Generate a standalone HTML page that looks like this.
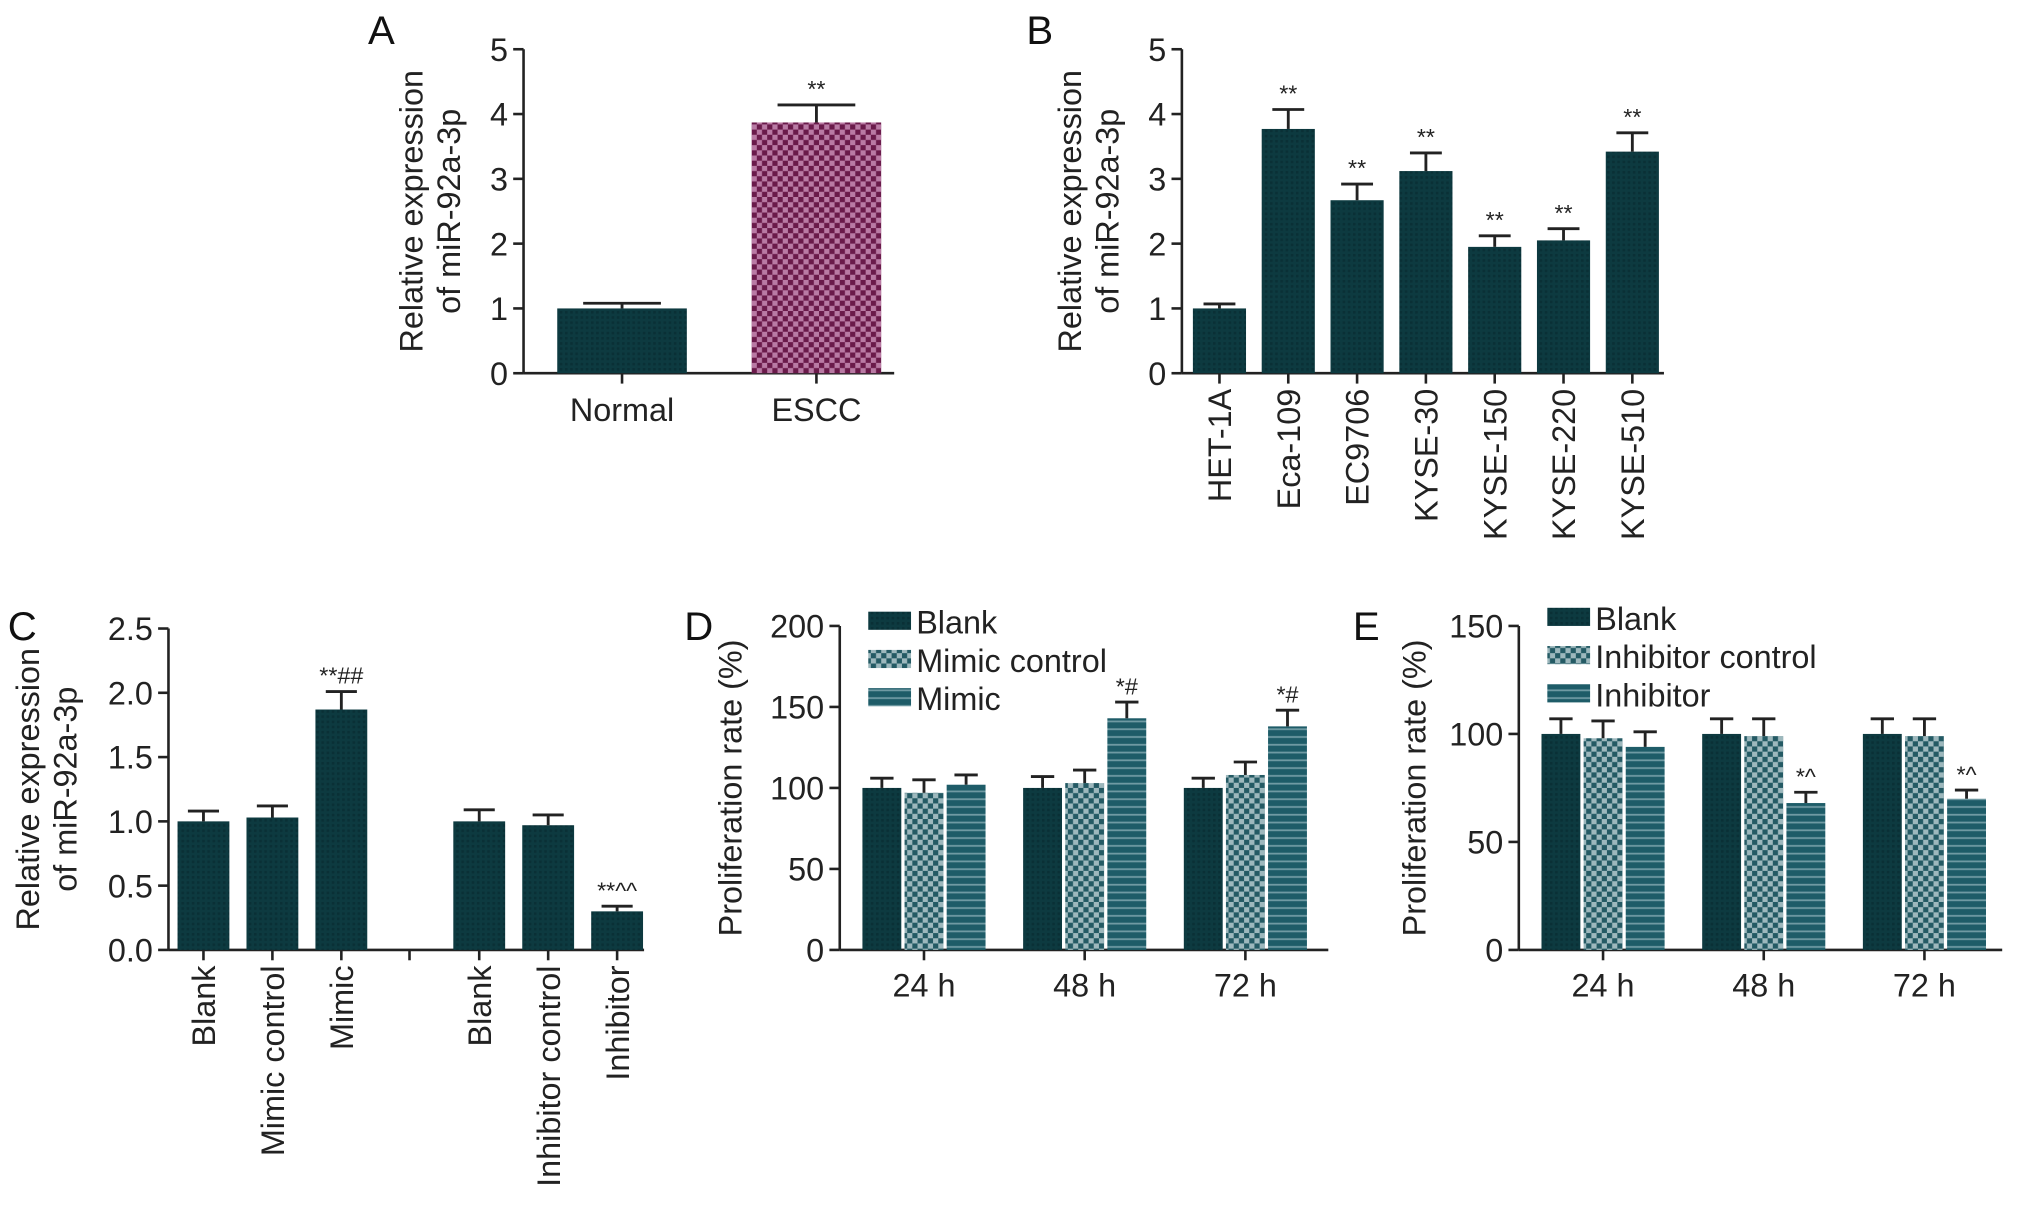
<!DOCTYPE html>
<html><head><meta charset="utf-8"><style>
html,body{margin:0;padding:0;background:#fff;}
svg{display:block;font-family:"Liberation Sans",sans-serif;}
</style></head><body>
<svg id="fig" width="2032" height="1206" viewBox="0 0 1568 930.6" preserveAspectRatio="none" xmlns="http://www.w3.org/2000/svg">
<defs>
<pattern id="pDark" width="4" height="4" patternUnits="userSpaceOnUse"><rect width="4" height="4" fill="#0d3a40"/><rect width="2" height="2" fill="#0a3036"/></pattern>
<pattern id="pPink" width="8" height="8" patternUnits="userSpaceOnUse"><rect width="8" height="8" fill="#b97aa4"/><rect width="4" height="4" fill="#6a1a4a"/><rect x="4" y="4" width="4" height="4" fill="#6a1a4a"/></pattern>
<pattern id="pCheck" width="8" height="8" patternUnits="userSpaceOnUse"><rect width="8" height="8" fill="#9db8bd"/><rect width="4" height="4" fill="#245a64"/><rect x="4" y="4" width="4" height="4" fill="#245a64"/></pattern>
<pattern id="pStripe" width="6" height="6" patternUnits="userSpaceOnUse"><rect width="6" height="6" fill="#1e5c68"/><rect y="4" width="6" height="1.4" fill="#6f9aa3"/></pattern>
</defs>
<g id="root"></g>
</svg>
<script>
// Panel A
const aCats=["Normal","ESCC"];
const aVals=[1.0,3.87];
const aErr=[0.08,0.27];
const aMarks=["","**"];
const aTicks=["0","1","2","3","4","5"];
// Panel B
const bCats=["HET-1A","Eca-109","EC9706","KYSE-30","KYSE-150","KYSE-220","KYSE-510"];
const bVals=[1.0,3.77,2.67,3.12,1.95,2.05,3.42];
const bErr=[0.07,0.3,0.25,0.28,0.17,0.18,0.29];
const bMarks=["","**","**","**","**","**","**"];
const bTicks=["0","1","2","3","4","5"];
// Panel C
const cCats=["Blank","Mimic control","Mimic","Blank","Inhibitor control","Inhibitor"];
const cVals=[1.0,1.03,1.87,1.0,0.97,0.3];
const cErr=[0.08,0.09,0.14,0.09,0.08,0.04];
const cMarks=["","","**##","","","**^^"];
const cTicks=["0.0","0.5","1.0","1.5","2.0","2.5"];
// Panel D
const dGroups=["24 h","48 h","72 h"];
const dSeries=["Blank","Mimic control","Mimic"];
const dBlank=[100,100,100];
const dCtrl=[97,103,108];
const dMimic=[102,143,138];
const dBlankErr=[6,7,6];
const dCtrlErr=[8,8,8];
const dMimicErr=[6,10,10];
const dMarks=["","*#","*#"];
const dTicks=["0","50","100","150","200"];
// Panel E
const eGroups=["24 h","48 h","72 h"];
const eSeries=["Blank","Inhibitor control","Inhibitor"];
const eBlank=[100,100,100];
const eCtrl=[98,99,99];
const eInh=[94,68,70];
const eBlankErr=[7,7,7];
const eCtrlErr=[8,8,8];
const eInhErr=[7,5,4];
const eMarks=["","*^","*^"];
const eTicks=["0","50","100","150"];

const NS="http://www.w3.org/2000/svg";
const root=document.getElementById('root');
function el(tag,attrs,parent,text){const e=document.createElementNS(NS,tag);for(const k in attrs)e.setAttribute(k,attrs[k]);if(text!==undefined)e.textContent=text;(parent||root).appendChild(e);return e;}

function axes(g,ax,y0,ytop,xend,ticks,max,title,titleX){
  const l=el('line',{x1:ax,y1:y0,x2:ax,y2:ytop,stroke:'#222','stroke-width':2},g);
  
  
  const xl=el('line',{x1:ax,y1:y0,x2:xend,y2:y0,stroke:'#222','stroke-width':2},g);
  
  
  ticks.forEach((t,i)=>{
    const v=parseFloat(t);const y=y0-v/max*(y0-ytop);
    el('line',{x1:ax-8,y1:y,x2:ax,y2:y,stroke:'#222','stroke-width':2},g);
    const tx=el('text',{x:ax-12,y:y+9,'text-anchor':'end','font-size':25,fill:'#222'},g,t);
    
    
  });
  const ty=(y0+ytop)/2;
  title.forEach((line,i)=>{
    const x=titleX[i];
    const t=el('text',{x:x,y:ty,'text-anchor':'middle','font-size':25,fill:'#222',transform:`rotate(-90 ${x} ${ty})`},g,line);
    
    
  });
}
function bar(g,cx,w,v,err,max,y0,ytop,fill,mark,name){
  const sc=(y0-ytop)/max;const yt=y0-v*sc;const ye=y0-(v+err)*sc;
  const r=el('rect',{x:cx-w/2,y:yt,width:w,height:y0-yt,fill:fill},g);
  
  
  el('line',{x1:cx,y1:yt,x2:cx,y2:ye,stroke:'#222','stroke-width':2.2},g);
  el('line',{x1:cx-w*0.3,y1:ye,x2:cx+w*0.3,y2:ye,stroke:'#222','stroke-width':2.2},g);
  if(mark){const m=el('text',{x:cx,y:ye-6,'text-anchor':'middle','font-size':18,fill:'#222'},g,mark);
    
    }
}
function letter(t,x,y){const e=el('text',{x:x,y:y,'font-size':31,fill:'#111'},root,t);
  
  }

// ---- Panel A
(function(){
  const g=el('g',{});
  letter('A',284,34);
  const ax=404,y0=288,yt=38,max=5;
  axes(g,ax,y0,yt,690,aTicks,max,["Relative expression","of miR-92a-3p"],[326,355]);
  const cx=[480,630];
  aCats.forEach((c,i)=>{
    bar(g,cx[i],100,aVals[i],aErr[i],max,y0,yt,i?'url(#pPink)':'url(#pDark)',aMarks[i],'bar-'+c.toLowerCase());
    el('line',{x1:cx[i],y1:y0,x2:cx[i],y2:y0+8,stroke:'#222','stroke-width':2},g);
    const t=el('text',{x:cx[i],y:y0+37,'text-anchor':'middle','font-size':25,fill:'#222'},g,c);
    
    
  });
})();
// ---- Panel B
(function(){
  const g=el('g',{});
  letter('B',792,34);
  const ax=912,y0=288,yt=38,max=5;
  axes(g,ax,y0,yt,1284,bTicks,max,["Relative expression","of miR-92a-3p"],[834,863]);
  bCats.forEach((c,i)=>{
    const cx=941+i*53.1;
    bar(g,cx,41,bVals[i],bErr[i],max,y0,yt,'url(#pDark)',bMarks[i],'bar-'+c.toLowerCase());
    el('line',{x1:cx,y1:y0,x2:cx,y2:y0+8,stroke:'#222','stroke-width':2},g);
    const ly=y0+12;
    const t=el('text',{x:cx+9,y:ly,'text-anchor':'end','font-size':25,fill:'#222',transform:`rotate(-90 ${cx+9} ${ly})`},g,c);
    
    
  });
})();
// ---- Panel C
(function(){
  const g=el('g',{});
  letter('C',6,494);
  const ax=130,y0=733,yt=485,max=2.5;
  axes(g,ax,y0,yt,497,cTicks,max,["Relative expression","of miR-92a-3p"],[30,59]);
  const pos=[0,1,2,4,5,6];
  el('line',{x1:316,y1:y0,x2:316,y2:y0+8,stroke:'#222','stroke-width':2},g);
  cCats.forEach((c,i)=>{
    const cx=157+pos[i]*53.2;
    bar(g,cx,40,cVals[i],cErr[i],max,y0,yt,'url(#pDark)',cMarks[i],'bar-'+c.toLowerCase().replace(/ /g,'-'));
    el('line',{x1:cx,y1:y0,x2:cx,y2:y0+8,stroke:'#222','stroke-width':2},g);
    const ly=y0+12;
    const t=el('text',{x:cx+9,y:ly,'text-anchor':'end','font-size':25,fill:'#222',transform:`rotate(-90 ${cx+9} ${ly})`},g,c);
    
    
  });
})();
// ---- grouped panels
function grouped(name,lt,lx,ax,xend,ticks,max,groups,series,vals,errs,marks,fills,legX,legY,titleX){
  const g=el('g',{});
  letter(lt,lx,494);
  const y0=733,yt=483;
  axes(g,ax,y0,yt,xend,ticks,max,["Proliferation rate (%)"],[titleX]);
  groups.forEach((gr,j)=>{
    const gc=ax+65+j*124;
    series.forEach((s,k)=>{
      bar(g,gc+(k-1)*32.5,30,vals[k][j],errs[k][j],max,y0,yt,fills[k],k===2?marks[j]:'','bar-'+gr.replace(' ','')+'-'+s.toLowerCase().replace(/ /g,'-'));
    });
    el('line',{x1:gc,y1:y0,x2:gc,y2:y0+8,stroke:'#222','stroke-width':2},g);
    const t=el('text',{x:gc,y:y0+36,'text-anchor':'middle','font-size':25,fill:'#222'},g,gr);
    
    
  });
  series.forEach((s,k)=>{
    const y=legY+k*29.5;
    const sw=el('rect',{x:legX,y:y-8,width:33,height:14,fill:fills[k]},g);
    
    
    const t=el('text',{x:legX+37,y:y+9,'font-size':25,fill:'#222'},g,s);
    
    
  });
}
grouped('panel-d','D',528,648,1025,dTicks,200,dGroups,dSeries,[dBlank,dCtrl,dMimic],[dBlankErr,dCtrlErr,dMimicErr],dMarks,['url(#pDark)','url(#pCheck)','url(#pStripe)'],670,480,572);
grouped('panel-e','E',1044,1172,1545,eTicks,150,eGroups,eSeries,[eBlank,eCtrl,eInh],[eBlankErr,eCtrlErr,eInhErr],eMarks,['url(#pDark)','url(#pCheck)','url(#pStripe)'],1194,477,1100);
</script>
</body></html>
